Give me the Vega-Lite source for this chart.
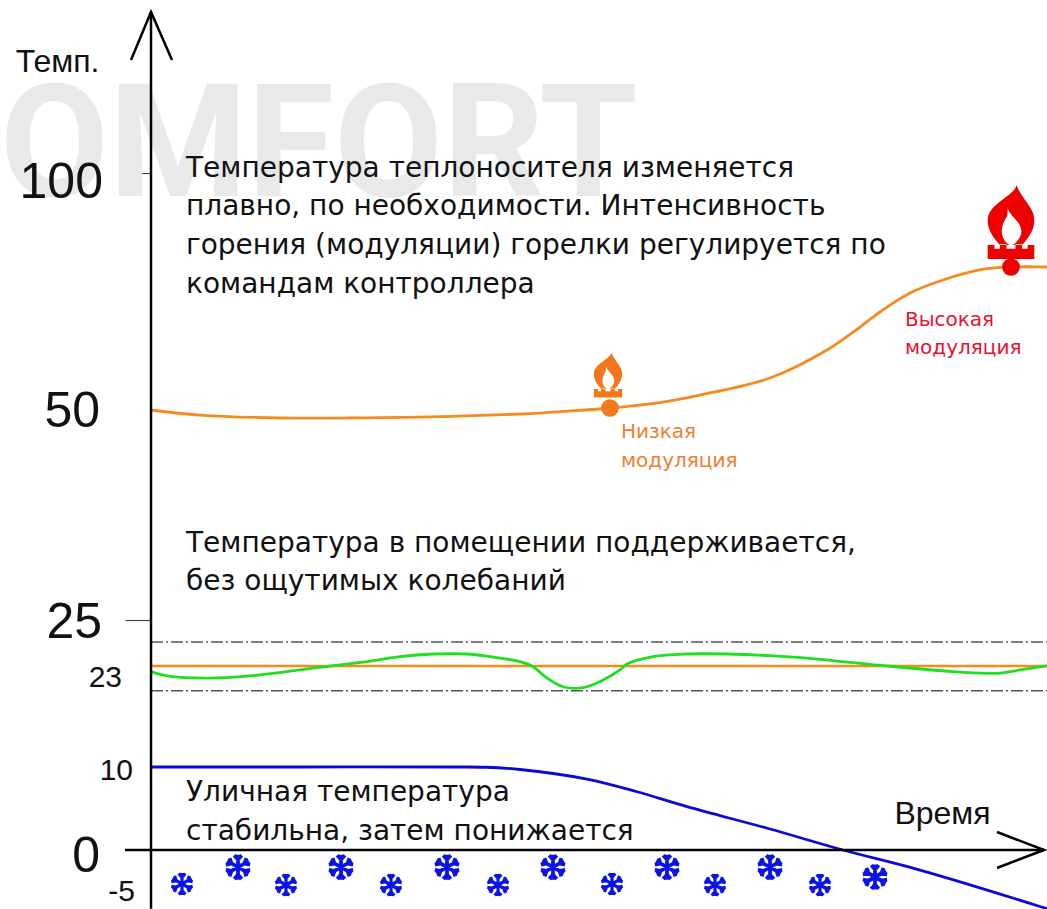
{
"$schema":"https://vega.github.io/schema/vega-lite/v6.json",
"width":1047,"height":909,"padding":0,"autosize":{"type":"none"},
"background":"white",
"config":{"view":{"stroke":null}},
"datasets":{
"boiler":[{"t":0,"temp":50},{"t":49,"temp":49.4},{"t":129,"temp":49.05},{"t":199,"temp":49.05},{"t":299,"temp":49.23},{"t":389,"temp":49.64},{"t":434,"temp":50},{"t":459,"temp":50.42},{"t":499,"temp":51.27},{"t":549,"temp":53.16},{"t":619,"temp":56.75},{"t":676,"temp":62.66},{"t":709,"temp":67.5},{"t":729,"temp":70.67},{"t":759,"temp":74.68},{"t":792,"temp":77.43},{"t":834,"temp":79.75},{"t":859,"temp":80.17},{"t":896,"temp":80.17}],
"room":[{"t":0,"temp":22.77},{"t":16,"temp":22.6},{"t":56,"temp":22.51},{"t":99,"temp":22.6},{"t":149,"temp":22.84},{"t":182,"temp":23.01},{"t":216,"temp":23.18},{"t":249,"temp":23.39},{"t":282,"temp":23.5},{"t":316,"temp":23.5},{"t":349,"temp":23.33},{"t":369,"temp":23.18},{"t":382,"temp":22.97},{"t":396,"temp":22.51},{"t":412,"temp":22.16},{"t":432,"temp":22.12},{"t":452,"temp":22.43},{"t":469,"temp":22.84},{"t":476,"temp":23.08},{"t":502,"temp":23.39},{"t":536,"temp":23.5},{"t":576,"temp":23.5},{"t":619,"temp":23.43},{"t":669,"temp":23.28},{"t":736,"temp":23},{"t":802,"temp":22.77},{"t":836,"temp":22.7},{"t":852,"temp":22.72},{"t":869,"temp":22.84},{"t":896,"temp":23.01}],
"outdoor":[{"t":0,"temp":10},{"t":150,"temp":10},{"t":300,"temp":10},{"t":335,"temp":9.97},{"t":369,"temp":9.7},{"t":436,"temp":8.55},{"t":486,"temp":7.02},{"t":536,"temp":5.22},{"t":619,"temp":2.53},{"t":692,"temp":0},{"t":769,"temp":-2.33},{"t":889,"temp":-6.59},{"t":896,"temp":-6.86}],
"spines":[
{"part":"y","i":1,"t":0,"temp":-6.86},{"part":"y","i":2,"t":0,"temp":133.97},
{"part":"yh","i":1,"t":-20,"temp":123.84},{"part":"yh","i":2,"t":0,"temp":133.97},{"part":"yh","i":3,"t":21,"temp":123.84},
{"part":"x","i":1,"t":-26,"temp":0},{"part":"x","i":2,"t":893,"temp":0},
{"part":"xh","i":1,"t":846,"temp":2.17},{"part":"xh","i":2,"t":893,"temp":0},{"part":"xh","i":3,"t":846,"temp":-2.09}],
"bigFlakes":[{"t":87,"temp":-2},{"t":190,"temp":-2},{"t":296,"temp":-2},{"t":402,"temp":-2},{"t":516,"temp":-2},{"t":619,"temp":-2},{"t":724,"temp":-3.14}],
"smallFlakes":[{"t":31,"temp":-3.95},{"t":135,"temp":-4.07},{"t":240,"temp":-4.07},{"t":347,"temp":-4.07},{"t":461,"temp":-3.95},{"t":564,"temp":-4.07},{"t":669,"temp":-4.07}]
},
"encoding":{
"x":{"field":"t","type":"quantitative","scale":{"domain":[-151,896],"range":[0,1047],"nice":false,"zero":false},"axis":{"title":"Время","titleFont":"Liberation Sans","titleFontSize":32,"titleFontWeight":"normal","titleColor":"#111","titleX":942,"titleY":-96,"titleAlign":"center","titleBaseline":"middle","labels":false,"ticks":false,"domain":false,"grid":false}},
"y":{"field":"temp","type":"quantitative","scale":{"domain":[-7,-5,0,10,22,23,24,25,50,100,136.5],"range":[910,893,850,767,690.7,666,642,620,410,173,0],"nice":false,"zero":false},"axis":{"title":"Темп.","titleFont":"Liberation Sans","titleFontSize":32,"titleFontWeight":"normal","titleColor":"#111","titleAngle":0,"titleX":-94,"titleY":61,"titleAlign":"center","titleBaseline":"middle","values":[100,25],"labels":false,"ticks":true,"tickSize":26,"tickColor":"#444","tickWidth":1.2,"domain":false,"grid":false,"offset":-151}}
},
"layer":[
{"data":{"values":[{"t":-151,"temp":105.06,"label":"OMFORT"}]},
"mark":{"type":"text","align":"left","baseline":"middle","font":"Roboto","fontWeight":"bold","fontSize":158,"color":"#e9e9e9"},
"encoding":{"text":{"field":"label"}}},
{"data":{"values":[{"t":0,"t2":896,"temp":24},{"t":0,"t2":896,"temp":22}]},
"mark":{"type":"rule","color":"#555555","strokeWidth":1.5,"strokeDash":[12,3,2,3]},
"encoding":{"x2":{"field":"t2"}}},
{"data":{"values":[{"t":0,"t2":896,"temp":23}]},
"mark":{"type":"rule","color":"#f58a1f","strokeWidth":2.5},
"encoding":{"x2":{"field":"t2"}}},
{"data":{"name":"room"},"mark":{"type":"line","color":"#1fe01f","strokeWidth":2.8,"interpolate":"catmull-rom"},"encoding":{}},
{"data":{"name":"boiler"},"mark":{"type":"line","color":"#f58a1f","strokeWidth":2.8,"interpolate":"catmull-rom"},"encoding":{}},
{"data":{"name":"outdoor"},"mark":{"type":"line","color":"#0a0ad8","strokeWidth":2.8,"interpolate":"catmull-rom"},"encoding":{}},
{"data":{"name":"spines"},"mark":{"type":"line","color":"#000000","strokeWidth":2.5},"encoding":{"detail":{"field":"part"},"order":{"field":"i"}}},
{"data":{"name":"bigFlakes"},"mark":{"type":"point","filled":false,"color":"#0a14e6","opacity":1,"size":625,"strokeWidth":3.8,"shape":"M0,-1L0,1M-0.866,-0.5L0.866,0.5M-0.866,0.5L0.866,-0.5M-0.3,-0.95L0,-0.6L0.3,-0.95M-0.3,0.95L0,0.6L0.3,0.95M0.673,-0.735L0.52,-0.3L0.973,-0.215M0.673,0.735L0.52,0.3L0.973,0.215M-0.673,0.735L-0.52,0.3L-0.973,0.215M-0.673,-0.735L-0.52,-0.3L-0.973,-0.215"}},
{"data":{"name":"smallFlakes"},"mark":{"type":"point","filled":false,"color":"#0a14e6","opacity":1,"size":484,"strokeWidth":3.2,"shape":"M0,-1L0,1M-0.866,-0.5L0.866,0.5M-0.866,0.5L0.866,-0.5M-0.3,-0.95L0,-0.6L0.3,-0.95M-0.3,0.95L0,0.6L0.3,0.95M0.673,-0.735L0.52,-0.3L0.973,-0.215M0.673,0.735L0.52,0.3L0.973,0.215M-0.673,0.735L-0.52,0.3L-0.973,0.215M-0.673,-0.735L-0.52,-0.3L-0.973,-0.215"}},
{"data":{"values":[{"t":457,"temp":57.38}]},"mark":{"type":"point","filled":true,"color":"#f5761a","opacity":1,"size":2025,"strokeWidth":0,"shape":"M0.15,-1C0.1,-0.7,-0.63,-0.5,-0.63,-0.05C-0.63,0.2,-0.5,0.4,-0.3,0.62L0.3,0.62C0.5,0.4,0.63,0.2,0.63,-0.05C0.63,-0.4,0.3,-0.6,0.15,-1ZM-0.09,-0.38C-0.02,-0.15,0.28,0,0.28,0.25C0.28,0.42,0.15,0.55,0.05,0.62L-0.05,0.62C-0.15,0.55,-0.25,0.42,-0.25,0.25C-0.25,0.05,-0.15,-0.05,-0.12,-0.15C-0.1,-0.1,-0.09,-0.25,-0.09,-0.38ZM-0.63,1L-0.63,0.62L-0.45,0.62L-0.45,0.72L-0.3,0.72L-0.3,0.6L-0.12,0.6L-0.12,0.72L0.12,0.72L0.12,0.6L0.3,0.6L0.3,0.72L0.45,0.72L0.45,0.62L0.63,0.62L0.63,1Z"}},
{"data":{"values":[{"t":860,"temp":89.66}]},"mark":{"type":"point","filled":true,"color":"#ee0000","opacity":1,"size":5476,"strokeWidth":0,"shape":"M0.15,-1C0.1,-0.7,-0.63,-0.5,-0.63,-0.05C-0.63,0.2,-0.5,0.4,-0.3,0.62L0.3,0.62C0.5,0.4,0.63,0.2,0.63,-0.05C0.63,-0.4,0.3,-0.6,0.15,-1ZM-0.09,-0.38C-0.02,-0.15,0.28,0,0.28,0.25C0.28,0.42,0.15,0.55,0.05,0.62L-0.05,0.62C-0.15,0.55,-0.25,0.42,-0.25,0.25C-0.25,0.05,-0.15,-0.05,-0.12,-0.15C-0.1,-0.1,-0.09,-0.25,-0.09,-0.38ZM-0.63,1L-0.63,0.62L-0.45,0.62L-0.45,0.72L-0.3,0.72L-0.3,0.6L-0.12,0.6L-0.12,0.72L0.12,0.72L0.12,0.6L0.3,0.6L0.3,0.72L0.45,0.72L0.45,0.62L0.63,0.62L0.63,1Z"}},
{"data":{"values":[{"t":459,"temp":50.42}]},"mark":{"type":"circle","color":"#f47a20","opacity":1,"size":314}},
{"data":{"values":[{"t":860,"temp":80.17}]},"mark":{"type":"circle","color":"#ee0000","opacity":1,"size":314}},
{"data":{"values":[
{"t":35,"temp":100.84,"label":"Температура теплоносителя изменяется"},
{"t":35,"temp":92.83,"label":"плавно, по необходимости. Интенсивность"},
{"t":35,"temp":84.6,"label":"горения (модуляции) горелки регулируется по"},
{"t":35,"temp":76.37,"label":"командам контроллера"},
{"t":35,"temp":34.05,"label":"Температура в помещении поддерживается,"},
{"t":35,"temp":29.52,"label":"без ощутимых колебаний"},
{"t":35,"temp":6.87,"label":"Уличная температура"},
{"t":35,"temp":2.17,"label":"стабильна, затем понижается"}]},
"mark":{"type":"text","align":"left","baseline":"middle","font":"DejaVu Sans","fontSize":28,"color":"#111111"},
"encoding":{"text":{"field":"label"}}},
{"data":{"values":[{"t":754,"temp":68.99,"label":"Высокая"},{"t":754,"temp":63.08,"label":"модуляция"}]},
"mark":{"type":"text","align":"left","baseline":"middle","font":"DejaVu Sans","fontSize":20,"color":"#e8112d"},
"encoding":{"text":{"field":"label"}}},
{"data":{"values":[{"t":470,"temp":47.38,"label":"Низкая"},{"t":470,"temp":43.93,"label":"модуляция"}]},
"mark":{"type":"text","align":"left","baseline":"middle","font":"DejaVu Sans","fontSize":20,"color":"#f07d32"},
"encoding":{"text":{"field":"label"}}},
{"data":{"values":[{"t":-48,"temp":97.89,"label":"100"},{"t":-51,"temp":49.76,"label":"50"},{"t":-49,"temp":24.88,"label":"25"},{"t":-51,"temp":-0.81,"label":"0"}]},
"mark":{"type":"text","align":"right","baseline":"middle","font":"Liberation Sans","fontSize":50,"color":"#111111"},
"encoding":{"text":{"field":"label"}}},
{"data":{"values":[{"t":-29,"temp":22.51,"label":"23"},{"t":-18,"temp":9.52,"label":"10"},{"t":-16,"temp":-4.88,"label":"-5"}]},
"mark":{"type":"text","align":"right","baseline":"middle","font":"Liberation Sans","fontSize":30,"color":"#111111"},
"encoding":{"text":{"field":"label"}}}
]
}
